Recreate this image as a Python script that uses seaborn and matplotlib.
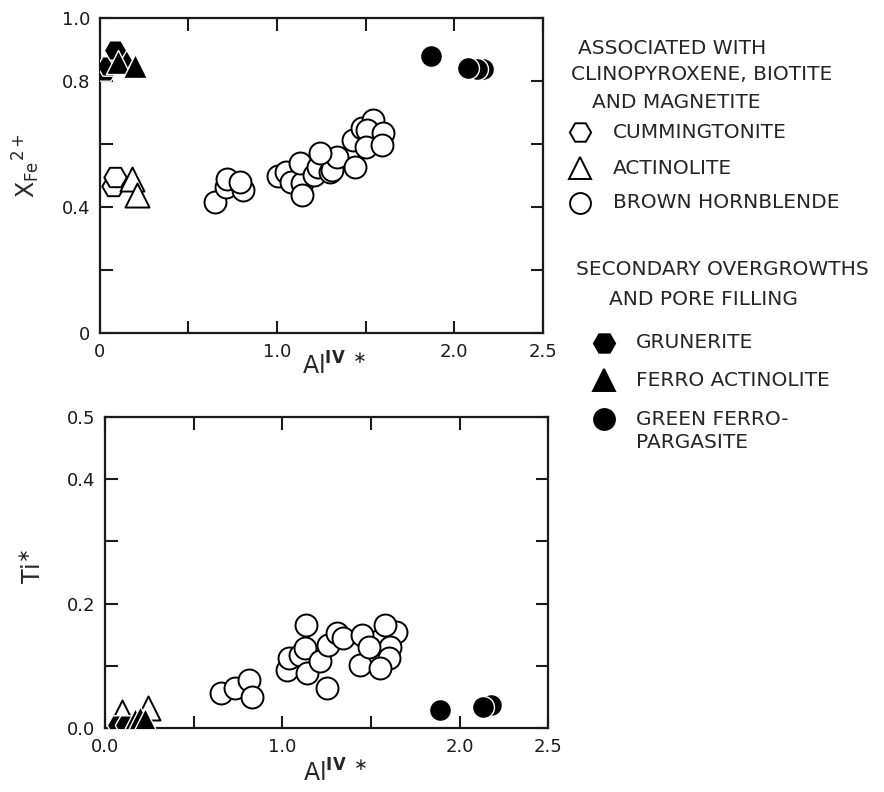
import pandas as pd
import matplotlib
matplotlib.use("Agg")
import matplotlib.pyplot as plt
import seaborn as sns
from matplotlib.lines import Line2D

# ---- upper panel: X Fe2+ vs Al(IV)* ----
hbl_al = [0.65, 0.71, 0.715, 0.81, 0.79, 1.005, 1.05, 1.08, 1.14, 1.14, 1.13, 1.21,
          1.23, 1.30, 1.31, 1.34, 1.24, 1.43, 1.44, 1.48, 1.54, 1.51, 1.50, 1.60, 1.59]
hbl_fe = [0.417, 0.464, 0.49, 0.454, 0.48, 0.498, 0.51, 0.48, 0.475, 0.438, 0.54, 0.50,
          0.528, 0.512, 0.517, 0.56, 0.57, 0.613, 0.528, 0.65, 0.676, 0.645, 0.59, 0.634, 0.597]
cum_al = [0.075, 0.085]
cum_fe = [0.465, 0.496]
act_al = [0.18, 0.21]
act_fe = [0.49, 0.438]
gru_al = [0.028, 0.047, 0.12, 0.085]
gru_fe = [0.83, 0.846, 0.867, 0.898]
fact_al = [0.10, 0.197]
fact_fe = [0.86, 0.846]
prg_al = [1.867, 2.16, 2.13, 2.08]
prg_fe = [0.880, 0.838, 0.838, 0.84]

# ---- lower panel: Ti* vs Al(IV)* ----
hbl_al_t = [0.654, 0.734, 0.81, 0.829, 1.026, 1.036, 1.10, 1.13, 1.136, 1.14, 1.215, 1.25,
            1.26, 1.31, 1.34, 1.55, 1.64, 1.61, 1.60, 1.45, 1.44, 1.49, 1.55, 1.58]
hbl_ti = [0.057, 0.064, 0.077, 0.050, 0.093, 0.112, 0.117, 0.128, 0.166, 0.088, 0.107, 0.064,
          0.133, 0.152, 0.145, 0.141, 0.155, 0.131, 0.112, 0.150, 0.101, 0.131, 0.096, 0.166]
act_al_t = [0.094, 0.24]
act_ti = [0.026, 0.032]
fact_al_t = [0.17, 0.198, 0.226]
fact_ti = [0.013, 0.016, 0.013]
gru_al_t = [0.075, 0.12]
gru_ti = [0.005, 0.005]
prg_al_t = [1.89, 2.175, 2.13]
prg_ti = [0.029, 0.037, 0.034]

STYLE = {
    "CUMMINGTONITE": ("H", False, 260),
    "ACTINOLITE": ("^", False, 300),
    "BROWN HORNBLENDE": ("o", False, 250),
    "GRUNERITE": ("H", True, 260),
    "FERRO ACTINOLITE": ("^", True, 300),
    "GREEN FERRO-PARGASITE": ("o", True, 250),
}

upper = pd.concat([
    pd.DataFrame({"al": cum_al, "val": cum_fe, "mineral": "CUMMINGTONITE"}),
    pd.DataFrame({"al": act_al, "val": act_fe, "mineral": "ACTINOLITE"}),
    pd.DataFrame({"al": hbl_al, "val": hbl_fe, "mineral": "BROWN HORNBLENDE"}),
    pd.DataFrame({"al": gru_al, "val": gru_fe, "mineral": "GRUNERITE"}),
    pd.DataFrame({"al": fact_al, "val": fact_fe, "mineral": "FERRO ACTINOLITE"}),
    pd.DataFrame({"al": prg_al, "val": prg_fe, "mineral": "GREEN FERRO-PARGASITE"}),
])
lower = pd.concat([
    pd.DataFrame({"al": act_al_t, "val": act_ti, "mineral": "ACTINOLITE"}),
    pd.DataFrame({"al": hbl_al_t, "val": hbl_ti, "mineral": "BROWN HORNBLENDE"}),
    pd.DataFrame({"al": gru_al_t, "val": gru_ti, "mineral": "GRUNERITE"}),
    pd.DataFrame({"al": fact_al_t, "val": fact_ti, "mineral": "FERRO ACTINOLITE"}),
    pd.DataFrame({"al": prg_al_t, "val": prg_ti, "mineral": "GREEN FERRO-PARGASITE"}),
])

sns.set_style("ticks")
plt.rcParams["font.family"] = ["DejaVu Sans"]
plt.rcParams["mathtext.fontset"] = "dejavusans"

fig = plt.figure(figsize=(8.84, 7.92), dpi=100)
ax1 = fig.add_axes([0.113, 0.5795, 0.501, 0.398])
ax2 = fig.add_axes([0.119, 0.0808, 0.501, 0.3927])


def draw(ax, df):
    for name, (mk, filled, size) in STYLE.items():
        sub = df[df["mineral"] == name]
        if sub.empty:
            continue
        sns.scatterplot(data=sub, x="al", y="val", ax=ax, marker=mk, s=size,
                        color="black" if filled else "white",
                        edgecolor="white" if filled else "black",
                        linewidth=1.0 if filled else 1.4,
                        legend=False, zorder=3)


draw(ax1, upper)
draw(ax2, lower)

xt = [0, 0.5, 1.0, 1.5, 2.0, 2.5]
for ax in (ax1, ax2):
    ax.set_xlim(0, 2.5)
    ax.set_xticks(xt)
    ax.tick_params(direction="in", length=9, width=1.5, top=True, right=True,
                   labelsize=13, pad=7, colors="#1a1a1a")
    for sp in ax.spines.values():
        sp.set_linewidth(1.6)
        sp.set_color("#1a1a1a")

ax1.set_ylim(0, 1.0)
ax1.set_yticks([0, 0.2, 0.4, 0.6, 0.8, 1.0])
ax1.set_yticklabels(["0", "", "0.4", "", "0.8", "1.0"])
ax1.set_xticklabels(["0", "", "1.0", "", "2.0", "2.5"])
ax2.set_ylim(0, 0.5)
ax2.set_yticks([0, 0.1, 0.2, 0.3, 0.4, 0.5])
ax2.set_yticklabels(["0.0", "", "0.2", "", "0.4", "0.5"])
ax2.set_xticklabels(["0.0", "", "1.0", "", "2.0", "2.5"])

al_label = r"Al$^{\mathbf{IV}\ \ast}$"
ax1.set_xlabel(al_label, fontsize=17)
ax1.xaxis.set_label_coords(0.53, -0.06)
ax2.set_xlabel(al_label, fontsize=17)
ax2.xaxis.set_label_coords(0.52, -0.1)
ax1.set_ylabel(r"X$_{\mathrm{Fe}}$$^{\mathrm{2+}}$", fontsize=17)
ax1.yaxis.set_label_coords(-0.13, 0.53)
ax2.set_ylabel(r"Ti$^{\ast}$", fontsize=17)
ax2.yaxis.set_label_coords(-0.135, 0.52)

# ---- key on the right ----
W, H = 884.0, 792.0
fs = 14.5
headers = [
    ("ASSOCIATED WITH", 672, 48),
    ("CLINOPYROXENE, BIOTITE", 702, 75),
    ("AND MAGNETITE", 676, 103),
    ("SECONDARY OVERGROWTHS", 722, 270),
    ("AND PORE FILLING", 703, 299),
]
for txt, cx, cy in headers:
    fig.text(cx / W, 1 - cy / H, txt, ha="center", va="center", fontsize=fs)

key = [
    ("CUMMINGTONITE", 580, 613, 132),
    ("ACTINOLITE", 580, 613, 168),
    ("BROWN HORNBLENDE", 580, 613, 203),
    ("GRUNERITE", 604, 636, 343),
    ("FERRO ACTINOLITE", 604, 636, 380),
    ("GREEN FERRO-PARGASITE", 604, 636, 419),
]
for name, mx, tx, yy in key:
    mk, filled, size = STYLE[name]
    fig.add_artist(Line2D([mx / W], [1 - yy / H], transform=fig.transFigure,
                          marker=mk, markersize=size ** 0.5 * 0.95, linestyle="none",
                          markerfacecolor="black" if filled else "white",
                          markeredgecolor="black", markeredgewidth=1.4))
    if name == "GREEN FERRO-PARGASITE":
        fig.text(tx / W, 1 - yy / H, "GREEN FERRO-", ha="left", va="center", fontsize=fs)
        fig.text(tx / W, 1 - (yy + 24) / H, "PARGASITE", ha="left", va="center", fontsize=fs)
    else:
        fig.text(tx / W, 1 - yy / H, name, ha="left", va="center", fontsize=fs)

fig.savefig("out.png", dpi=100, facecolor="white")
